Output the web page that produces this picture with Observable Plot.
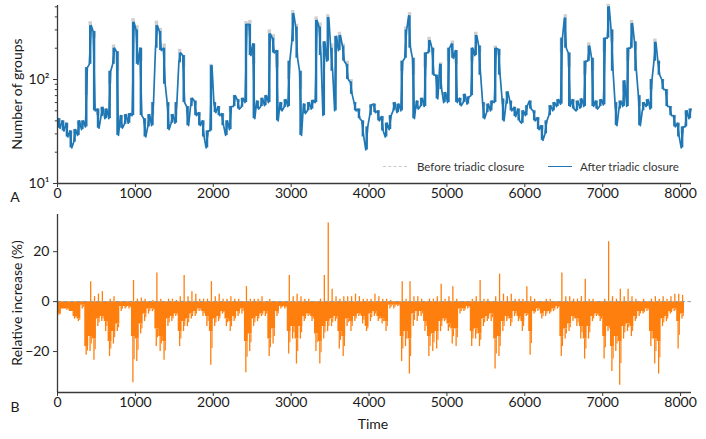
<!DOCTYPE html>
<html><head><meta charset="utf-8">
<script src="https://cdn.jsdelivr.net/npm/d3@7"></script>
<script src="https://cdn.jsdelivr.net/npm/@observablehq/plot@0.6"></script>
<style>
body{margin:0;background:#fff;font-family:Lato,"Open Sans",sans-serif;}
#wrap{position:relative;width:706px;height:439px;overflow:hidden;}
#wrap svg{display:block;}
.lbl{position:absolute;font-size:14px;color:#1a1a1a;white-space:nowrap;transform:translate(-50%,-50%);line-height:1;}
.rot{transform:translate(-50%,-50%) rotate(-90deg);}
.leg{position:absolute;font-size:11.5px;color:#333;white-space:nowrap;line-height:1;transform:translateY(-50%);}
.sw{position:absolute;height:0;}
</style></head><body><div id="wrap"></div>
<script>
const BIN = 50; // time units per reading bin
// Panel A: number of groups after triadic closure (low / high of the noisy trace per bin)
const groupsAfterLo = [
34,32,28,22,25,29,33,35,140,50,
34,44,42,42,140,29,34,37,38,45,
140,45,28,35,36,200,190,90,33,38,
38,145,60,36,55,45,36,28,22,32,
48,45,36,29,33,55,52,54,60,170,
42,52,55,56,60,180,40,50,54,55,
230,160,29,47,50,52,60,170,45,150,
120,50,190,150,100,72,50,42,28,21,
45,48,40,32,28,33,50,48,50,160,
200,42,52,55,55,180,110,65,80,60,
60,160,60,56,60,58,70,170,110,42,
48,50,60,110,40,58,50,44,40,38,
45,52,40,33,26,30,45,50,55,58,
200,55,52,50,53,55,150,55,52,55,
57,250,120,36,52,55,55,200,120,36,
50,55,52,150,110,80,55,45,35,28,
22,35,42];
const groupsAfterHi = [
42,40,38,32,33,40,40,130,330,290,
52,54,52,120,200,185,45,46,47,355,
300,200,42,46,60,330,290,200,60,46,
60,180,170,55,66,62,48,40,32,136,
60,55,47,40,55,70,64,66,340,340,
220,62,66,70,275,250,190,60,64,150,
430,320,120,58,60,63,370,320,230,395,
200,260,265,210,140,95,60,52,40,35,
57,58,50,44,38,45,60,58,150,300,
410,160,62,66,180,237,200,110,140,75,
200,220,190,66,72,68,200,265,210,60,
58,62,200,195,65,76,62,54,52,50,
56,62,50,43,36,40,56,60,64,250,
390,180,64,62,65,150,210,160,62,64,
250,500,300,60,62,97,200,345,230,70,
60,64,100,228,150,100,80,55,45,38,
35,50,52];
// Panel A: number of groups before triadic closure (upper reading per bin)
const groupsBefore = [
39,37,34,28,30,36,37,70,360,250,
45,50,48,90,215,120,41,43,44,385,
330,150,37,42,45,365,310,220,55,43,
45,195,130,47,62,56,44,36,28,140,
56,51,43,36,48,66,60,62,360,370,
140,58,62,65,300,270,130,57,60,100,
460,340,80,54,57,59,400,350,200,420,
220,180,285,220,150,100,58,49,37,30,
53,55,47,40,35,41,57,55,120,320,
440,110,59,63,130,255,180,100,145,70,
150,235,140,63,68,65,150,285,180,55,
55,58,210,170,58,70,58,51,48,46,
52,59,47,40,33,37,53,57,62,180,
420,130,60,58,62,110,225,120,59,61,
180,530,230,52,59,75,150,370,190,55,
57,61,80,245,140,95,70,52,42,35,
30,45,50];
// Panel B: relative increase (%) — typical depth of the dense trace per bin
const relFill = [
-5,-3,-3,-4,-6,-7,-1.5,-18,-14,-15,
-7,-6,-8,-16,-12,-9,-2,-2,-2,-14,
-15,-9,-5,-3,-3,-11,-14,-16,-7,-6,
-5,-12,-8,-7,-5,-4,-3,-4,-6,-12,
-7,-6,-4,-7,-8,-6,-4,-3,-16,-13,
-7,-6,-5,-4,-15,-11,-4,-2,-2,-12,
-10,-15,-10,-6,-5,-6,-13,-16,-10,-8,
-7,-6,-12,-14,-7,-8,-6,-5,-6,-10,
-5,-4,-6,-7,-8,-1.5,-1.5,-1.5,-14,-12,
-15,-5,-4,-4,-8,-14,-13,-12,-8,-7,
-9,-11,-11,-3,-3,-2,-12,-11,-13,-7,
-6,-5,-15,-14,-8,-6,-7,-4,-6,-8,
-5,-12,-4,-3,-5,-4,-4,-3,-2,-14,
-11,-9,-6,-7,-10,-15,-10,-6,-5,-6,
-14,-10,-18,-14,-16,-10,-9,-10,-6,-4,
-4,-3,-12,-15,-16,-7,-6,-4,-3,-8,
-5];
// Panel B: most negative / most positive reading per bin
const relLo = [
-5.5,-3,-3.5,-4,-7,-8,-3,-21.5,-20,-23.5,
-10,-8,-12,-22,-17,-12,-4,-3,-3,-32.5,
-24,-13,-8,-5,-4,-18,-20,-23.5,-10,-8,
-6,-18,-12,-10,-7,-6,-4,-6,-10,-25.5,
-10,-8,-5,-10,-12,-8,-6,-5,-28.5,-20,
-10,-8,-6,-6,-22,-17,-6,-3,-3,-21,
-15,-25,-15,-8,-6,-8,-20,-25,-15,-12,
-10,-8,-19,-22,-10,-12,-8,-6,-9,-12,
-8,-6,-8,-9,-12,-3,-3,-2,-24,-18,
-29,-10,-8,-6,-12,-22,-20,-19,-12,-8,
-12,-17,-18,-5,-4,-3,-18,-15,-18,-10,
-8,-8,-27,-22,-12,-8,-10,-6,-8,-12,
-6,-21.5,-5,-4,-7,-6,-5,-4,-3,-22,
-15,-12,-8,-10,-15,-23,-15,-8,-6,-8,
-23,-12,-28,-20,-33.5,-15,-12,-14,-8,-6,
-5,-4,-18,-25,-29,-10,-8,-5,-4,-19,
-7];
const relHi = [
0,0,0,0,0,0,0,0,8,2,
3,4,0,1,2,0,0,0,0,8.5,
1,1.5,1,0,0.5,11.5,1,0,1,1,
0.5,2,10.5,2,4,3,1,1,1,8,
2,3,1,1,2,1,1,0,6,1,
1,1,2,0,1,0,0,0,0,10.5,
2,3,2,1,1,0,0,1,10.5,31.5,
5,2,1,2,2,2,3,2,1,1,
1,3,2,1,1,0.5,0,0,8,1,
8,2,2,1,0,1,1,2,7,1,
2,6,1,0,0,0,1,2,8.5,1,
1,0,2,11,3,2,3,1,1,1,
6,2,1,0,0,1,1,0,0,11.5,
2,2,1,1,2,9,1,1,0,0,
1,24,2,1,5,2,5,2,1,0,
1,0,1,2,1,2,1,2,3,3,
2.5];
const xTicks = [0,1000,2000,3000,4000,5000,6000,7000,8000];
const yMajorA = [10, 100];
const yMajorLabelsA = ["10\u00b9", "10\u00b2"];
const yMinorA = [20,30,40,50,60,70,80,90,200,300,400,500];
const yTicksB = [-20, 0, 20];

const FONT = "Lato, 'Open Sans', sans-serif";
const INK = "#1a1a1a", SPINE = "#3a3a3a";
const BLUE = "#1f77b4", ORANGE = "#ff7f0e";

// interleave the low/high readings of each bin into one trace (order follows the local trend)
function zig(lo, hi) {
  const pts = [];
  const m = j => Math.sqrt(lo[j] * hi[j]);
  lo.forEach((l, i) => {
    const h = hi[i];
    const prev = i > 0 ? m(i - 1) : m(i), next = i < lo.length - 1 ? m(i + 1) : m(i);
    const [a, b] = next > prev ? [l, h] : [h, l];
    pts.push({t: i * BIN + 8, v: a}, {t: i * BIN + 33, v: b});
  });
  return pts;
}
const traceA = zig(groupsAfterLo, groupsAfterHi);
const binsA = groupsAfterLo.map((lo, i) => ({t: i * BIN + 20, lo, hi: groupsAfterHi[i], before: groupsBefore[i]}));
const binsB = relFill.map((f, i) => ({t: i * BIN, fill: f, lo: relLo[i], hi: relHi[i]}));
const areaB = binsB.concat([{t: binsB.length * BIN, fill: relFill[relFill.length - 1]}]);

const common = {
  width: 706, marginLeft: 57, marginRight: 15,
  style: {fontFamily: FONT, fontSize: "14px", color: INK, background: "transparent"}
};

const plotA = Plot.plot({
  ...common, height: 205, marginTop: 5, marginBottom: 22,
  x: {domain: [0, 8140], axis: null},
  y: {type: "log", domain: [10, 515], axis: null},
  marks: [
    Plot.ruleX(binsA, {x: "t", y1: "hi", y2: "before", stroke: "#d0d0d0", strokeWidth: 3.5}),
    Plot.ruleX(binsA, {x: "t", y1: "lo", y2: "hi", stroke: BLUE, strokeWidth: 2.4}),
    Plot.line(traceA, {x: "t", y: "v", stroke: BLUE, strokeWidth: 1.7}),
    Plot.ruleX([0], {stroke: SPINE, strokeWidth: 1.3}),
    Plot.ruleY([10], {stroke: SPINE, strokeWidth: 1.3}),
    Plot.axisX({ticks: xTicks, tickFormat: d => String(d), tickSize: 4, tickPadding: 1, fontSize: 14, label: null, stroke: SPINE}),
    Plot.axisY({ticks: yMajorA, tickFormat: d => yMajorLabelsA[yMajorA.indexOf(d)], tickSize: 4, tickPadding: 4, fontSize: 14, label: null, stroke: SPINE}),
    Plot.axisY({ticks: yMinorA, tickFormat: () => "", tickSize: 2.2, label: null, stroke: SPINE})
  ]
});

const plotB = Plot.plot({
  ...common, height: 234, marginTop: 9, marginBottom: 47,
  x: {domain: [0, 8140], axis: null},
  y: {domain: [-36.4, 34.9], axis: null},
  marks: [
    Plot.areaY(areaB, {x: "t", y1: 0, y2: "fill", curve: "step-after", fill: ORANGE}),
    Plot.ruleX(binsB, {x: d => d.t + 18, y1: "fill", y2: "lo", stroke: ORANGE, strokeWidth: 1.3}),
    Plot.ruleX(binsB, {x: d => d.t + 34, y1: d => (d.fill + d.lo) / 2, y2: "fill", stroke: ORANGE, strokeWidth: 1.1}),
    Plot.ruleX(binsB, {x: d => d.t + 26, y1: 0, y2: "hi", stroke: ORANGE, strokeWidth: 1.3}),
    Plot.ruleY([0], {stroke: "#8f9aa6", strokeWidth: 1, strokeDasharray: "4,2.5"}),
    Plot.ruleX([0], {stroke: SPINE, strokeWidth: 1.3}),
    Plot.ruleY([-36.4], {stroke: SPINE, strokeWidth: 1.3}),
    Plot.axisX({ticks: xTicks, tickFormat: d => String(d), tickSize: 4, tickPadding: 1, fontSize: 14, label: null, stroke: SPINE}),
    Plot.axisY({ticks: yTicksB, tickFormat: d => d < 0 ? "\u2212" + Math.abs(d) : String(d), tickSize: 4, tickPadding: 4, fontSize: 14, label: null, stroke: SPINE})
  ]
});

const wrap = document.getElementById("wrap");
wrap.append(plotA, plotB);

function addLabel(text, x, y, cls) {
  const d = document.createElement("div");
  d.className = cls; d.textContent = text;
  d.style.left = x + "px"; d.style.top = y + "px";
  wrap.append(d);
}
addLabel("Number of groups", 17, 94, "lbl rot");
addLabel("Relative increase (%)", 17, 303, "lbl rot");
addLabel("A", 15, 197, "lbl");
addLabel("B", 15, 407, "lbl");
addLabel("Time", 373, 424, "lbl");

// legend
const legend = [
  {label: "Before triadic closure", color: "#c8c8c8", dash: "dashed", x0: 383, tx: 417},
  {label: "After triadic closure", color: BLUE, dash: "solid", x0: 548, tx: 580}
];
legend.forEach(l => {
  const s = document.createElement("div");
  s.className = "sw";
  s.style.left = l.x0 + "px"; s.style.top = "166px"; s.style.width = "24px";
  s.style.borderTop = `1.5px ${l.dash} ${l.color}`;
  wrap.append(s);
  const t = document.createElement("div");
  t.className = "leg"; t.textContent = l.label;
  t.style.left = l.tx + "px"; t.style.top = "167px";
  wrap.append(t);
});
</script></body></html>
